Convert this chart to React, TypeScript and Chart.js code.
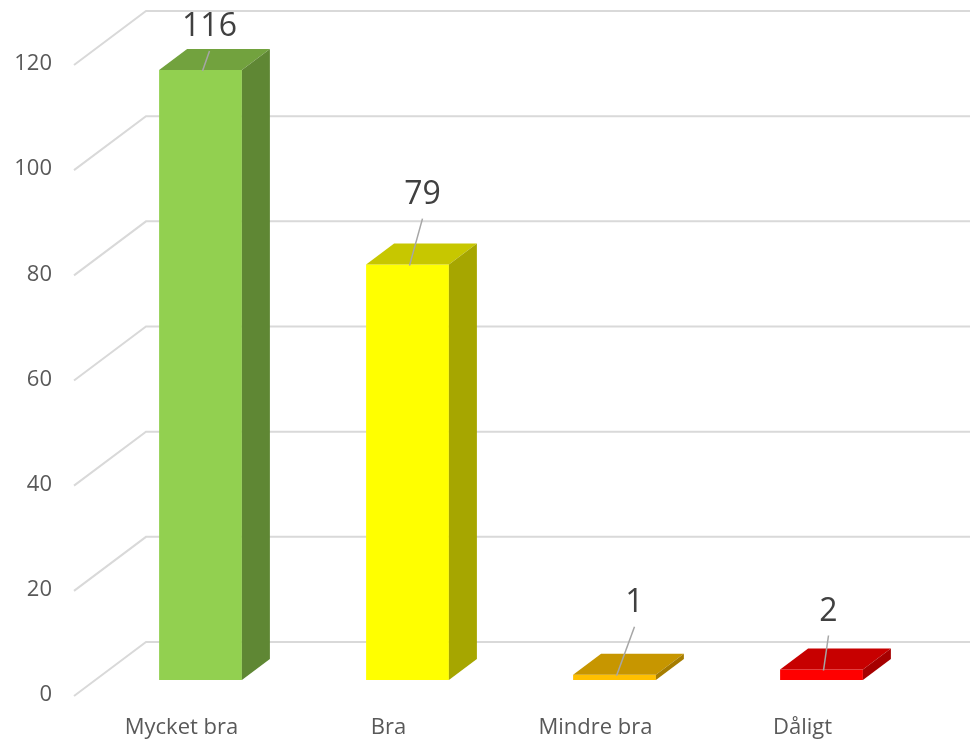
import React, { useEffect, useRef } from "react";
import { Chart, registerables } from "chart.js";

Chart.register(...registerables);

const categories = ["Mycket bra", "Bra", "Mindre bra", "Dåligt"];
const values = [116, 79, 1, 2];
const frontColors = ["#92D050", "#FFFF00", "#FFC000", "#FF0000"];
const yTicks = [0, 20, 40, 60, 80, 100, 120];
// label placement relative to the bar's front-top centre [dx, dy]
const labelOffsets = [
  [9, -43],
  [15, -70],
  [20, -72],
  [7, -58],
];

const BAR_SHIFT_X = 19;
const BAR_SHIFT_Y = -15;
const DEPTH_X = 28;
const DEPTH_Y = 21;
const WALL_X = 72;
const WALL_Y = 53;

function shade(hex: string, f: number) {
  const n = parseInt(hex.slice(1), 16);
  const r = Math.round(((n >> 16) & 255) * f);
  const g = Math.round(((n >> 8) & 255) * f);
  const b = Math.round((n & 255) * f);
  return `rgb(${r},${g},${b})`;
}

const threeD = {
  id: "threeD",
  beforeDatasetsDraw(chart: any) {
    const ctx = chart.ctx;
    const y = chart.scales.y;
    const area = chart.chartArea;
    ctx.save();
    ctx.strokeStyle = "#D9D9D9";
    ctx.lineWidth = 2;
    yTicks.forEach((v) => {
      const py = y.getPixelForValue(v);
      ctx.beginPath();
      ctx.moveTo(area.left - 4, py + 1);
      ctx.lineTo(area.left - 4 + WALL_X, py - WALL_Y);
      ctx.lineTo(chart.width, py - WALL_Y);
      ctx.stroke();
    });
    ctx.restore();
    ctx.save();
    ctx.translate(BAR_SHIFT_X, BAR_SHIFT_Y);
  },
  afterDatasetsDraw(chart: any) {
    const ctx = chart.ctx;
    const meta = chart.getDatasetMeta(0);
    meta.data.forEach((el: any, i: number) => {
      const { x, y, base, width } = el.getProps(["x", "y", "base", "width"], true);
      const l = x - width / 2;
      const r = x + width / 2;
      const c = frontColors[i];
      // top face
      ctx.fillStyle = shade(c, 0.78);
      ctx.beginPath();
      ctx.moveTo(l, y);
      ctx.lineTo(r, y);
      ctx.lineTo(r + DEPTH_X, y - DEPTH_Y);
      ctx.lineTo(l + DEPTH_X, y - DEPTH_Y);
      ctx.closePath();
      ctx.fill();
      // side face
      ctx.fillStyle = shade(c, 0.65);
      ctx.beginPath();
      ctx.moveTo(r, y);
      ctx.lineTo(r + DEPTH_X, y - DEPTH_Y);
      ctx.lineTo(r + DEPTH_X, base - DEPTH_Y);
      ctx.lineTo(r, base);
      ctx.closePath();
      ctx.fill();
      // leader line + data label
      const [dx, dy] = labelOffsets[i];
      const lx = x + dx;
      const ly = y + dy;
      ctx.strokeStyle = "#A6A6A6";
      ctx.lineWidth = 1.5;
      ctx.beginPath();
      ctx.moveTo(x + 2, y + 1);
      ctx.lineTo(lx, ly + 24);
      ctx.stroke();
      ctx.fillStyle = "#404040";
      ctx.font = "32px 'Open Sans'";
      ctx.textAlign = "center";
      ctx.textBaseline = "middle";
      ctx.fillText(String(values[i]), lx, ly);
    });
    ctx.restore();
  },
};

export default function App() {
  const ref = useRef<HTMLCanvasElement>(null);
  useEffect(() => {
    document.body.style.margin = "0";
    const chart = new Chart(ref.current!, {
      type: "bar",
      data: {
        labels: categories,
        datasets: [
          {
            data: values,
            backgroundColor: frontColors,
            borderWidth: 0,
            barPercentage: 1,
            categoryPercentage: 0.4,
            clip: false as any,
          },
        ],
      },
      options: {
        animation: false,
        responsive: true,
        maintainAspectRatio: false,
        layout: { padding: { top: 64, right: 64, left: 0, bottom: 0 } },
        plugins: { legend: { display: false }, tooltip: { enabled: false } },
        scales: {
          x: {
            grid: { display: false, drawTicks: false },
            border: { display: false },
            ticks: {
              color: "#595959",
              font: { family: "'Open Sans'", size: 22 },
              padding: 20,
              maxRotation: 0,
            },
            afterFit: (s: any) => {
              s.height = 45;
            },
          },
          y: {
            min: 0,
            max: 120,
            grid: { display: false, drawTicks: false },
            border: { display: false },
            ticks: {
              stepSize: 20,
              color: "#595959",
              font: { family: "'Open Sans'", size: 22 },
              padding: 26,
            },
            afterFit: (s: any) => {
              s.width = 78;
            },
          },
        },
      },
      plugins: [threeD],
    });
    return () => chart.destroy();
  }, []);
  return (
    <div style={{ position: "fixed", left: 0, top: 0, width: 970, height: 740, background: "#fff" }}>
      <canvas ref={ref} />
    </div>
  );
}
